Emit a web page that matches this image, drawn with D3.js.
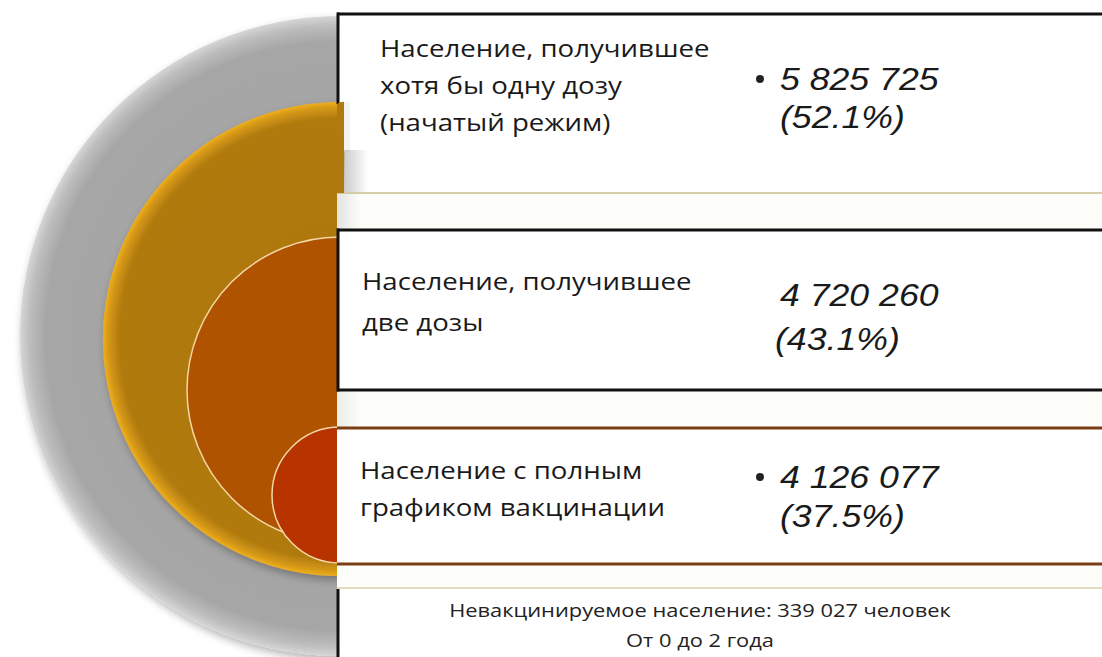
<!DOCTYPE html>
<html>
<head>
<meta charset="utf-8">
<style>
  html, body { margin: 0; padding: 0; background: #fff; }
  svg { display: block; }
</style>
</head>
<body>
<svg width="1102" height="657" id="chart"></svg>
<script src="https://cdnjs.cloudflare.com/ajax/libs/d3/7.8.5/d3.min.js"></script>
<script>

// data
const labels = [
  ['Население, получившее', 'хотя бы одну дозу', '(начатый режим)'],
  ['Население, получившее', 'две дозы'],
  ['Население с полным', 'графиком вакцинации']
]
const counts = [5825725, 4720260, 4126077]
const shares = [52.1, 43.1, 37.5]
const bullets = [true, false, true]
const unvaccinated = 339027
const unvaccinatedAge = 'От 0 до 2 года'

// layout
const W = 1102, H = 657
const cx = 340
const rings = [
  { cy: 336, r: 320, fill: 'url(#gGray)', stroke: 'none' },
  { cy: 339, r: 237, fill: 'url(#gGold)', stroke: 'none' },
  { cy: 390, r: 153, fill: '#b05300', stroke: '#f4d7a4' },
  { cy: 495, r: 68,  fill: '#b73300', stroke: '#f4d7a4' }
]
const boxes = [
  { y0: 14,  y1: 193, top: '#111', bottom: '#c8bd8c', left: true,  labelX: 380, base: 57,  gap: 37, numX: 780, numBase: 90,  pctX: 780, pctBase: 128 },
  { y0: 230, y1: 390, top: '#111', bottom: '#111',    left: true,  labelX: 362, base: 290, gap: 41, numX: 780, numBase: 306, pctX: 775, pctBase: 350 },
  { y0: 428, y1: 564, top: '#7a3d14', bottom: '#7a3d14', left: false, labelX: 360, base: 479, gap: 37, numX: 780, numBase: 488, pctX: 780, pctBase: 527 }
]
const stretch = 1.15

const fmtCount = v => d3.format(',')(v).replace(/,/g, ' ')
const fmtPct = v => '(' + d3.format('.1f')(v) + '%)'
function tr(x, y, s) { return 'translate(' + x + ',' + y + ') scale(' + (s || stretch) + ',1)' }

const svg = d3.select('#chart')
const defs = svg.append('defs')

function radial(id, r, stops) {
  const g = defs.append('radialGradient').attr('id', id)
    .attr('gradientUnits', 'userSpaceOnUse').attr('cx', 0).attr('cy', 0).attr('r', r)
  stops.forEach(s => g.append('stop').attr('offset', s[0]).attr('stop-color', s[1]))
}
radial('gGray', 320, [['0%', '#a4a4a4'], ['92%', '#a6a6a6'], ['97%', '#bdbdbd'], ['100%', '#d6d6d6']])
radial('gGold', 237, [['0%', '#ad770f'], ['93%', '#b07a10'], ['97.5%', '#d39614'], ['100%', '#eeae1e']])

const gShade = defs.append('linearGradient').attr('id', 'gShade')
gShade.append('stop').attr('offset', '0%').attr('stop-color', '#a8a8a8')
gShade.append('stop').attr('offset', '100%').attr('stop-color', '#ffffff')

const shadow = defs.append('filter').attr('id', 'shadow')
  .attr('x', '-10%').attr('y', '-10%').attr('width', '130%').attr('height', '130%')
shadow.append('feDropShadow').attr('dx', 2).attr('dy', 4).attr('stdDeviation', 4)
  .attr('flood-color', '#000').attr('flood-opacity', 0.3)

// nested half discs, left side only
const half = d3.arc().innerRadius(0).startAngle(Math.PI).endAngle(2 * Math.PI)

svg.append('g')
  .selectAll('path')
  .data(rings)
  .enter()
  .append('path')
    .attr('transform', d => 'translate(' + cx + ',' + d.cy + ')')
    .attr('d', d => half.outerRadius(d.r)())
    .attr('fill', d => d.fill)
    .attr('stroke', d => d.stroke)
    .attr('stroke-width', 1.5)
    .attr('filter', (d, i) => i < 2 ? 'url(#shadow)' : null)

// right-hand panel
const px = 337
const panel = svg.append('g')

// background strips between boxes
panel.append('rect').attr('x', px).attr('y', 14).attr('width', W - px).attr('height', 574).attr('fill', '#fdfdf9')
panel.append('rect').attr('x', px).attr('y', 588).attr('width', W - px).attr('height', H - 588).attr('fill', '#fff')
panel.append('line').attr('x1', px).attr('x2', W).attr('y1', 588).attr('y2', 588)
  .attr('stroke', '#d9d0aa').attr('stroke-width', 1.5)
panel.append('line').attr('x1', px + 1).attr('x2', px + 1).attr('y1', 589).attr('y2', H)
  .attr('stroke', '#111').attr('stroke-width', 3)
panel.append('rect').attr('x', px).attr('y', 193).attr('width', 24).attr('height', 37).attr('fill', 'url(#gShade)').attr('opacity', 0.3)
panel.append('rect').attr('x', px).attr('y', 390).attr('width', 24).attr('height', 38).attr('fill', 'url(#gShade)').attr('opacity', 0.2)

boxes.forEach((b, i) => {
  const g = panel.append('g')
  g.append('rect').attr('x', px).attr('y', b.y0).attr('width', W - px).attr('height', b.y1 - b.y0).attr('fill', '#fff')
  g.append('line').attr('x1', px).attr('x2', W).attr('y1', b.y0).attr('y2', b.y0)
    .attr('stroke', b.top).attr('stroke-width', 3)
  g.append('line').attr('x1', px).attr('x2', W).attr('y1', b.y1).attr('y2', b.y1)
    .attr('stroke', b.bottom).attr('stroke-width', i === 0 ? 1.5 : 3)
  if (b.left) {
    g.append('line').attr('x1', px + 1).attr('x2', px + 1).attr('y1', b.y0 - 1.5)
      .attr('y2', i === 0 ? 104 : b.y1 + 1.5)
      .attr('stroke', '#111').attr('stroke-width', 3)
  }

  labels[i].forEach((line, k) => {
    g.append('text')
      .attr('transform', tr(b.labelX, b.base + k * b.gap))
      .attr('font-family', '"Open Sans", "Noto Sans", sans-serif')
      .attr('font-size', 24)
      .attr('fill', '#1a1a1a')
      .text(line)
  })

  if (bullets[i]) {
    g.append('circle').attr('cx', b.numX - 20).attr('cy', b.numBase - 11).attr('r', 4).attr('fill', '#222')
  }
  g.append('text')
    .attr('transform', tr(b.numX, b.numBase))
    .attr('font-family', '"Liberation Sans", Arial, sans-serif')
    .attr('font-style', 'italic')
    .attr('font-size', 31)
    .attr('fill', '#1a1a1a')
    .text(fmtCount(counts[i]))
  g.append('text')
    .attr('transform', tr(b.pctX, b.pctBase))
    .attr('font-family', '"Liberation Sans", Arial, sans-serif')
    .attr('font-style', 'italic')
    .attr('font-size', 31)
    .attr('fill', '#1a1a1a')
    .text(fmtPct(shares[i]))
})

// the gold disc peeks past the panel edge inside the first box
panel.append('path')
  .attr('d', 'M' + px + ',104 Q' + (px + 4) + ',101 ' + (px + 8) + ',102 L' + (px + 7) + ',193 L' + px + ',193 Z')
  .attr('fill', '#b07a10')
panel.append('rect').attr('x', px + 7).attr('y', 102).attr('width', 6).attr('height', 50).attr('fill', '#f4f4f2')
panel.append('rect').attr('x', px + 7).attr('y', 150).attr('width', 24).attr('height', 42).attr('fill', 'url(#gShade)').attr('opacity', 0.6)

// footnote
const foot = svg.append('g')
  .attr('font-family', '"Open Sans", "Noto Sans", sans-serif')
  .attr('font-size', 19)
  .attr('fill', '#222')
  .attr('text-anchor', 'middle')
foot.append('text').attr('transform', tr(700, 617))
  .text('Невакцинируемое население: ' + fmtCount(unvaccinated) + ' человек')
foot.append('text').attr('transform', tr(700, 647))
  .text(unvaccinatedAge)

</script>
</body>
</html>
